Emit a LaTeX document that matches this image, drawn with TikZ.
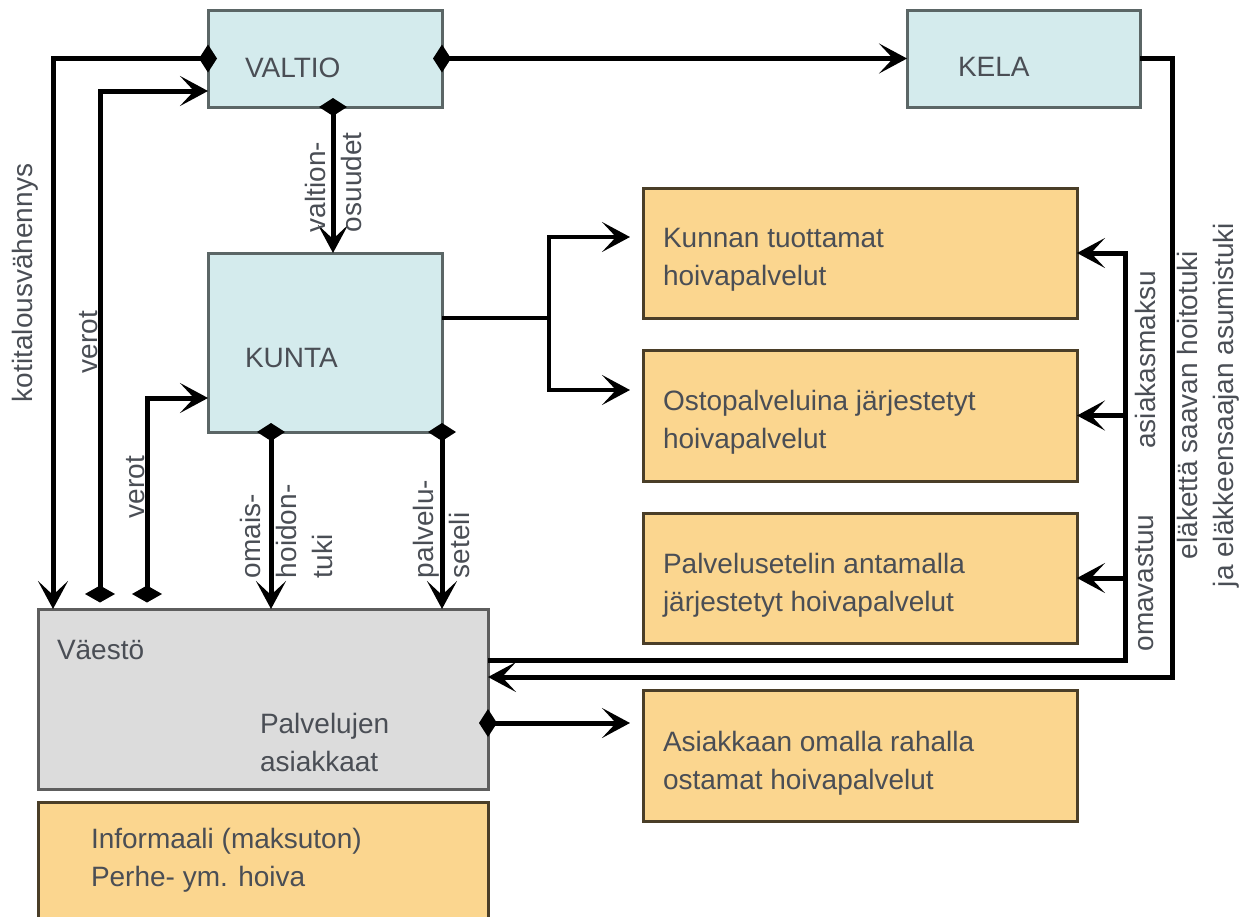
\documentclass[tikz,border=0pt]{standalone}
\usepackage{fontspec}
\setmainfont{Liberation Sans}
\usetikzlibrary{arrows.meta,calc}
\definecolor{cyfill}{HTML}{D4EBED}
\definecolor{orfill}{HTML}{FBD68F}
\definecolor{grfill}{HTML}{DCDCDC}
\definecolor{cyline}{HTML}{5B6666}
\definecolor{orline}{HTML}{4A3E28}
\definecolor{grline}{HTML}{5E5E5E}
\definecolor{txtcol}{HTML}{4A4E55}
\begin{document}
\begin{tikzpicture}[x=1pt,y=-1pt,
  box/.style={line width=3pt,inner sep=0pt,outer sep=0pt,anchor=north west},
  cybox/.style={box,draw=cyline,fill=cyfill},
  orbox/.style={box,draw=orline,fill=orfill},
  grbox/.style={box,draw=grline,fill=grfill},
  lbl/.style={text=txtcol,font=\fontsize{28}{38}\selectfont,inner sep=0pt,outer sep=0pt},
  rot/.style={lbl,rotate=90,align=left,font=\fontsize{28}{36}\selectfont},
  conn/.style={line width=5pt,black},
  thinconn/.style={line width=4pt,black},
  ar/.style={arrows={-Stealth[length=28pt,width=30pt,inset=14pt]}},
  da/.style={arrows={Diamond[length=18pt,width=28pt]-Stealth[length=28pt,width=30pt,inset=14pt]},shorten <=-9pt},
  fa/.style={arrows={Diamond[length=17pt,width=30pt]-Stealth[length=28pt,width=30pt,inset=14pt]}}
]
\clip (0,0) rectangle (1242,916);
\useasboundingbox (0,0) rectangle (1242,916);

% boxes
\node[cybox,minimum width=234pt,minimum height=97pt] (valtio) at (208,10) {};
\node[cybox,minimum width=233pt,minimum height=97pt] (kela) at (907,10) {};
\node[cybox,minimum width=234pt,minimum height=179pt] (kunta) at (208,253) {};
\node[orbox,minimum width=434pt,minimum height=130pt] (o1) at (643,188) {};
\node[orbox,minimum width=434pt,minimum height=131pt] (o2) at (643,350) {};
\node[orbox,minimum width=434pt,minimum height=130pt] (o3) at (643,513) {};
\node[orbox,minimum width=434pt,minimum height=131pt] (o4) at (643,690) {};
\node[grbox,minimum width=450pt,minimum height=180pt] (vaesto) at (38,609) {};
\node[orbox,minimum width=450pt,minimum height=140pt] (info) at (38,802) {};

% box texts
\node[lbl,anchor=base west] (tvaltio) at (245,77) {VALTIO};
\node[lbl,anchor=base west] (tkela) at (958,76) {KELA};
\node[lbl,anchor=base west] (tkunta) at (245,367) {KUNTA};
\node[lbl,anchor=base west] (tvaesto) at (57,659) {Väestö};
\node[lbl,anchor=north west,align=left] (tpalv) at (260,713) {Palvelujen\\asiakkaat};
\node[lbl,anchor=north west,align=left] (to1) at (663,228) {Kunnan tuottamat\\hoivapalvelut};
\node[lbl,anchor=north west,align=left] (to2) at (663,390) {Ostopalveluina järjestetyt\\hoivapalvelut};
\node[lbl,anchor=north west,align=left] (to3) at (663,553) {Palvelusetelin antamalla\\järjestetyt hoivapalvelut};
\node[lbl,anchor=north west,align=left] (to4) at (663,731) {Asiakkaan omalla rahalla\\ostamat hoivapalvelut};
\node[lbl,anchor=north west,align=left] (tinfo) at (91,828) {Informaali (maksuton)\\Perhe- ym. hoiva};

% connectors
\draw[conn,da] (valtio.west) -| ($(vaesto.north west)+(15,0)$);
\draw[conn,fa] ($(vaesto.north west)+(62,-6.5)$) |- ($(valtio.north west)+(0,81)$);
\draw[conn,fa] ($(vaesto.north west)+(109,-6.5)$) |- ($(kunta.north west)+(0,145)$);
\draw[conn,da] ($(valtio.south west)+(125,0)$) -- ($(kunta.north west)+(125,0)$);
\draw[conn,da] (valtio.east) -- (kela.west);
\draw[conn,ar] (kela.east) -- ($(kela.east)+(32,0)$) |- ($(vaesto.north east)+(0,68)$);

\coordinate (br) at ($(kunta.north east)+(107,65)$);
\draw[thinconn] ($(kunta.north east)+(0,65)$) -- (br);
\draw[thinconn,ar] (br) |- ($(o1.west)+(-13,-16)$);
\draw[thinconn,ar] (br) |- ($(o2.west)+(-13,-25.5)$);

\draw[conn,ar] ($(vaesto.north east)+(0,51)$) -| ($(o1.east)+(48,0)$) -- (o1.east);
\draw[conn,ar] ($(o2.east)+(48,0)$) -- (o2.east);
\draw[conn,ar] ($(o3.east)+(48,0)$) -- (o3.east);

\draw[conn,da] ($(vaesto.north east)+(0,114)$) -- ($(o4.west)+(-13,-32.5)$);

\draw[conn,da] ($(kunta.south west)+(63,0)$) -- ($(vaesto.north west)+(233,0)$);
\draw[conn,da] (kunta.south east) -- ($(vaesto.north west)+(404,0)$);

% connector labels
\node[rot,anchor=center] (lkoti) at (25,283) {kotitalousvähennys};
\node[rot,anchor=center] (lverot1) at (89,342) {verot};
\node[rot,anchor=center] (lverot2) at (136,487) {verot};
\node[rot,anchor=west] (lvaltion) at (333,232) {valtion-\\osuudet};
\node[rot,anchor=west] (lomais) at (286,578) {omais-\\hoidon-\\tuki};
\node[rot,anchor=west] (lpalv) at (441,578) {palvelu-\\seteli};
\node[rot,anchor=center] (lasiak) at (1145,360) {asiakasmaksu};
\node[rot,anchor=center] (loma) at (1145,583) {omavastuu};
\node[rot,anchor=center,align=center] (lelake) at (1208,405) {eläkettä saavan hoitotuki\\ja eläkkeensaajan asumistuki};
\end{tikzpicture}
\end{document}
